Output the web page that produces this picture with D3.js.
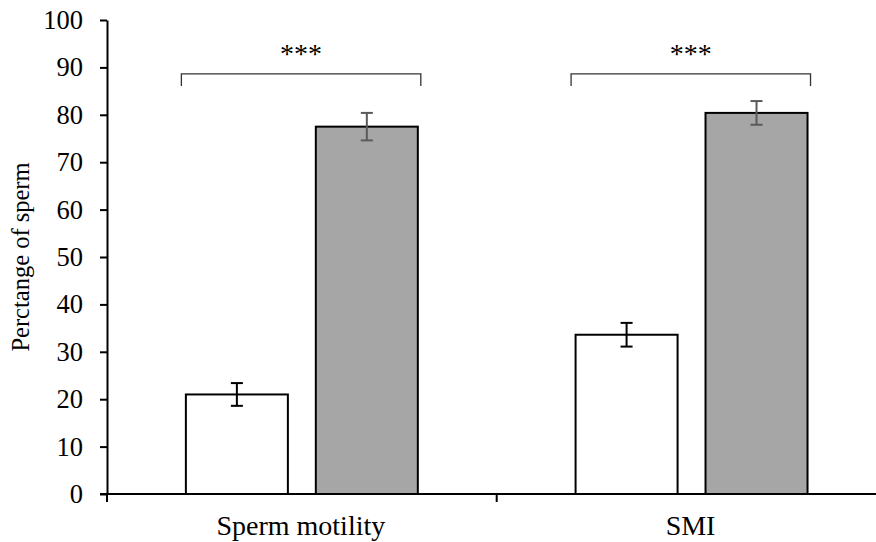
<!DOCTYPE html>
<html>
<head>
<meta charset="utf-8">
<script src="https://cdn.jsdelivr.net/npm/d3@7"></script>
<style>
  html, body { margin: 0; padding: 0; background: #fff; }
  svg { display: block; }
  svg text { font-family: "Liberation Serif", "Times New Roman", serif; fill: #000; }
</style>
</head>
<body>
<svg id="chart" width="876" height="542"></svg>
<script>
// Categories and groups
const categories = ["Sperm motility", "SMI"];
const groups = ["control", "treated"];

// Mean percentages and their error (± SE)
const controlValues = [21.0, 33.6];
const controlErrors = [2.4, 2.5];
const treatedValues = [77.5, 80.4];
const treatedErrors = [2.9, 2.5];

// Significance marks per category
const significance = ["***", "***"];
const bracketLevel = [88, 88];

const yTicks = [0, 10, 20, 30, 40, 50, 60, 70, 80, 90, 100];
const yTitle = "Perctange of sperm";

const FONT = "'Liberation Serif', 'Times New Roman', serif";

const svg = d3.select("#chart");

const x0 = 107, x1 = 886.4, yTop = 20, yBottom = 494;

const x = d3.scaleBand().domain(categories).range([x0, x1]).paddingInner(0).paddingOuter(0);
const xInner = d3.scaleBand().domain(groups).range([0, x.bandwidth()])
  .paddingInner(0.215).paddingOuter(0.607);
const y = d3.scaleLinear().domain([0, 100]).range([yBottom, yTop]);

const rows = categories.map((c, i) => ({
  category: c,
  bars: [
    { group: "control", value: controlValues[i], err: controlErrors[i], fill: "#ffffff", errColor: "#000000" },
    { group: "treated", value: treatedValues[i], err: treatedErrors[i], fill: "#a6a6a6", errColor: "#5a5a5a" }
  ]
}));

// Bars
const g = svg.append("g");
const cat = g.selectAll("g.cat").data(rows).join("g")
  .attr("class", "cat")
  .attr("transform", d => `translate(${x(d.category)},0)`);

cat.selectAll("rect").data(d => d.bars).join("rect")
  .attr("x", d => xInner(d.group))
  .attr("y", d => y(d.value))
  .attr("width", xInner.bandwidth())
  .attr("height", d => y(0) - y(d.value))
  .attr("fill", d => d.fill)
  .attr("stroke", "#000")
  .attr("stroke-width", 2);

// Error bars
const capHalf = 6;
const eb = cat.selectAll("g.err").data(d => d.bars).join("g")
  .attr("class", "err")
  .attr("stroke", d => d.errColor)
  .attr("stroke-width", 2);
eb.append("line")
  .attr("x1", d => xInner(d.group) + xInner.bandwidth() / 2)
  .attr("x2", d => xInner(d.group) + xInner.bandwidth() / 2)
  .attr("y1", d => y(d.value + d.err))
  .attr("y2", d => y(d.value - d.err));
eb.append("line")
  .attr("x1", d => xInner(d.group) + xInner.bandwidth() / 2 - capHalf)
  .attr("x2", d => xInner(d.group) + xInner.bandwidth() / 2 + capHalf)
  .attr("y1", d => y(d.value + d.err))
  .attr("y2", d => y(d.value + d.err));
eb.append("line")
  .attr("x1", d => xInner(d.group) + xInner.bandwidth() / 2 - capHalf)
  .attr("x2", d => xInner(d.group) + xInner.bandwidth() / 2 + capHalf)
  .attr("y1", d => y(d.value - d.err))
  .attr("y2", d => y(d.value - d.err));

// Significance brackets
categories.forEach((c, i) => {
  const left = x(c) + xInner("control") - 4.5;
  const right = x(c) + xInner("treated") + xInner.bandwidth() + 3;
  const top = y(bracketLevel[i]) - 3;
  svg.append("path")
    .attr("d", `M${left},${top + 12}V${top}H${right}V${top + 12}`)
    .attr("fill", "none")
    .attr("stroke", "#333")
    .attr("stroke-width", 1.3);
  svg.append("text")
    .attr("x", (left + right) / 2)
    .attr("y", top - 11)
    .attr("text-anchor", "middle")
    .style("font-family", FONT)
    .style("font-size", "28px")
    .text(significance[i]);
});

// Y axis
const yAxis = svg.append("g")
  .attr("transform", `translate(${x0},0)`)
  .call(d3.axisLeft(y).tickValues(yTicks).tickSize(7).tickPadding(17).tickSizeOuter(0));
yAxis.attr("font-family", null).attr("font-size", null);
yAxis.select(".domain").attr("stroke", "#000").attr("stroke-width", 2);
yAxis.selectAll(".tick line").attr("stroke", "#000").attr("stroke-width", 2);
yAxis.selectAll(".tick text")
  .style("font-family", FONT).style("font-size", "26.5px").attr("fill", "#000");

// X axis with ticks on category boundaries
const xAxis = svg.append("g")
  .attr("transform", `translate(0,${yBottom})`);
xAxis.append("line")
  .attr("x1", x0 - 7).attr("x2", x1)
  .attr("stroke", "#000").attr("stroke-width", 2);
const boundaries = categories.map(c => x(c)).concat([x1]);
xAxis.selectAll("line.tk").data(boundaries).join("line")
  .attr("class", "tk")
  .attr("x1", d => d).attr("x2", d => d)
  .attr("y1", 0).attr("y2", 8)
  .attr("stroke", "#000").attr("stroke-width", 2);
xAxis.selectAll("text").data(categories).join("text")
  .attr("x", d => x(d) + x.bandwidth() / 2 - 1)
  .attr("y", 41)
  .attr("text-anchor", "middle")
  .style("font-family", FONT)
  .style("font-size", "28px")
  .text(d => d);

// Y axis title
svg.append("text")
  .attr("transform", `translate(29,${(yTop + yBottom) / 2}) rotate(-90)`)
  .attr("text-anchor", "middle")
  .style("font-family", FONT)
  .style("font-size", "24.5px")
  .text(yTitle);
</script>
</body>
</html>
